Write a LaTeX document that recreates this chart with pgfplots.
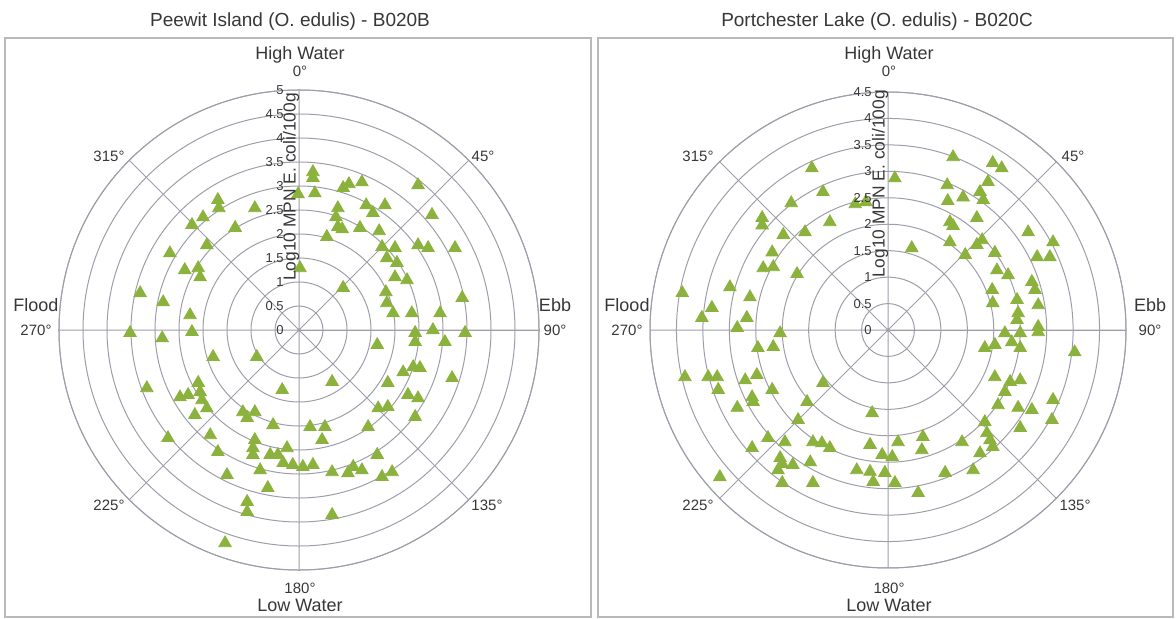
\documentclass[border=0pt]{standalone}
\usepackage{pgfplots}
\pgfplotsset{compat=1.18}
\usepgfplotslibrary{polar}
\usepackage{pgfplotstable}
\usepackage{fontspec}
\setmainfont{Liberation Sans}
\definecolor{gridc}{RGB}{158,158,170}
\definecolor{mk}{RGB}{140,178,62}
\definecolor{framec}{RGB}{185,185,185}
\definecolor{txt}{RGB}{55,55,55}
\newcommand\fs[1]{\fontsize{#1}{#1}\selectfont}

% Peewit Island: Cartesian form of (angle, Log10 MPN) -- x = Ebb direction, y = High Water direction
\pgfplotstableread{
x y
0.29 3.29
0.29 3.17
-0.02 2.83
0.33 2.85
0.92 2.96
1.04 3.04
1.31 3.08
2.48 3.02
1.40 2.60
1.79 2.60
1.54 2.44
0.81 2.54
0.77 2.35
0.81 2.15
0.90 2.10
1.27 2.13
1.67 2.06
0.58 1.94
2.77 2.40
1.73 1.73
2.00 1.71
1.83 1.50
2.04 1.40
2.00 1.10
2.25 1.04
2.48 1.77
2.69 1.71
3.25 1.71
0.02 1.29
0.92 0.88
1.81 0.79
1.83 0.56
1.96 0.35
3.40 0.67
1.63 -0.31
2.42 -0.06
2.42 -0.25
2.79 0.00
3.04 -0.25
3.46 -0.06
2.94 0.35
2.35 0.35
2.17 -0.88
2.38 -0.77
2.52 -0.79
3.19 -1.00
0.69 -1.08
1.85 -1.10
2.27 -1.35
2.48 -1.42
1.65 -1.63
1.85 -1.60
2.42 -1.81
1.44 -2.02
0.23 -2.02
0.54 -2.02
0.48 -2.29
1.63 -2.60
0.08 -2.85
0.29 -2.81
0.69 -2.96
1.02 -2.98
1.13 -2.85
1.31 -2.92
1.73 -3.06
1.94 -2.96
0.69 -3.85
-1.79 -0.56
-0.88 -0.56
-3.17 -1.21
-2.48 -1.40
-2.31 -1.35
-2.10 -1.10
-2.06 -1.29
-2.02 -1.46
-1.92 -1.63
-2.17 -1.77
-0.35 -1.25
-1.17 -1.71
-0.92 -1.71
-1.08 -1.83
-0.54 -1.98
-2.73 -2.25
-1.85 -2.19
-1.69 -2.54
-0.92 -2.29
-0.96 -2.46
-0.96 -2.60
-0.60 -2.60
-0.44 -2.60
-0.25 -2.46
-0.33 -2.77
-0.13 -2.81
-0.81 -2.92
-1.50 -3.02
-0.65 -3.29
-1.08 -3.58
-1.08 -3.79
-1.54 -4.44
-3.52 -0.06
-2.85 -0.17
-2.23 -0.04
-2.27 0.31
-3.31 0.77
-2.83 0.58
-2.38 1.25
-2.10 1.29
-2.06 1.10
-2.69 1.60
-1.92 1.77
-2.23 2.19
-2.00 2.35
-1.69 2.71
-1.67 2.54
-0.92 2.54
-1.33 2.13
}\leftdata

% Portchester Lake
\pgfplotstableread{
x y
-1.44 3.06
-1.23 2.61
-1.83 2.40
-0.62 2.38
-0.42 2.42
-2.38 2.12
-2.38 1.98
-1.10 2.04
-1.98 1.80
-1.57 1.85
-2.19 1.47
-2.36 1.17
-2.17 1.19
-1.72 1.06
-2.99 0.81
-2.61 0.62
-3.89 0.70
-3.33 0.42
-2.67 0.23
-3.52 0.23
-2.85 0.04
0.13 2.87
0.45 1.55
1.23 3.27
1.98 3.16
2.15 3.06
1.12 2.74
1.89 2.80
1.74 2.61
1.80 2.46
1.42 2.51
1.13 2.44
1.17 2.04
1.23 1.97
1.68 2.12
2.65 1.85
3.12 1.66
1.78 1.70
1.68 1.61
1.17 1.66
1.46 1.42
2.02 1.46
2.82 1.38
3.06 1.38
2.06 1.13
2.27 1.04
2.72 0.91
2.78 0.76
1.97 0.76
2.44 0.57
2.84 0.47
1.98 0.51
2.46 0.32
2.44 0.19
2.84 0.06
2.21 -0.06
2.50 -0.06
2.84 -0.04
1.83 -0.34
2.02 -0.28
2.34 -0.23
2.50 -0.34
3.53 -0.42
2.02 -0.89
2.31 -0.98
2.50 -0.95
2.21 -1.17
2.08 -1.42
2.46 -1.47
2.72 -1.51
3.12 -1.32
3.10 -1.70
2.50 -1.85
1.83 -1.74
1.87 -1.95
1.93 -2.08
1.98 -2.21
1.40 -2.12
1.74 -2.33
0.19 -2.12
0.66 -2.02
0.64 -2.27
0.08 -2.40
1.61 -2.65
1.08 -2.70
0.13 -2.89
0.57 -3.08
-2.04 -0.06
-2.46 -0.34
-2.17 -0.32
-3.84 -0.89
-3.40 -0.89
-3.23 -0.89
-3.21 -1.13
-2.70 -0.95
-2.48 -0.85
-2.19 -1.13
-2.57 -1.27
-2.55 -1.36
-2.85 -1.47
-1.53 -1.36
-1.23 -1.00
-1.70 -1.70
-2.27 -2.04
-1.95 -2.12
-2.57 -2.23
-1.42 -2.12
-1.25 -2.14
-1.10 -2.23
-2.04 -2.42
-2.00 -2.53
-2.08 -2.65
-1.80 -2.55
-1.47 -2.50
-2.00 -2.89
-1.42 -2.89
-3.18 -2.78
-0.30 -1.57
-0.34 -2.17
-0.11 -2.36
-0.59 -2.65
-0.34 -2.68
-0.06 -2.70
-0.28 -2.87
}\rightdata

\pgfplotsset{rosestyle/.style={
  anchor=center, scale only axis,
  xtick={0,45,...,315}, xticklabels={}, yticklabels={},
  grid=major, major grid style={gridc, line width=0.5pt},
  axis line style={gridc, line width=0.5pt},
  major tick length=0pt,
}}

\begin{document}
\begin{tikzpicture}
\useasboundingbox (0pt,0pt) rectangle (588pt,-309.5pt);

% ---------- left panel ----------
\begin{polaraxis}[rosestyle, at={(149.5pt,-165pt)}, width=240pt, height=240pt,
  ymin=0, ymax=5, ytick={0,0.5,...,5}]
\addplot[data cs=cart, only marks, mark=triangle*, mark size=3.6pt, mark options={fill=mk, draw=mk}] table {\leftdata};
\end{polaraxis}

% ---------- right panel ----------
\begin{polaraxis}[rosestyle, at={(444pt,-165pt)}, width=238pt, height=238pt,
  ymin=0, ymax=4.5, ytick={0,0.5,...,4.5}]
\addplot[data cs=cart, only marks, mark=triangle*, mark size=3.6pt, mark options={fill=mk, draw=mk}] table {\rightdata};
\end{polaraxis}

\begin{scope}[x=0.5pt,y=0.5pt]
% frames
\draw[framec, line width=0.75pt] (5,-38) rectangle (591,-617);
\draw[framec, line width=0.75pt] (598,-38) rectangle (1173,-617);

\node[txt, font=\fs{9.5pt}] at (290,-22) {Peewit Island (O. edulis) - B020B};
\foreach \r in {0,0.5,1,1.5,2,2.5,3,3.5,4,4.5,5}
  \node[txt, anchor=east, font=\fs{6.5pt}, inner sep=0pt] at (284,{-330+\r*48}) {\r};
\node[txt, rotate=90, font=\fs{8.7pt}, inner sep=0pt] at (291,-187) {Log10 MPN E. coli/100g};
\node[txt, font=\fs{9pt}] at (300,-55) {High Water};
\node[txt, font=\fs{7.5pt}] at (300,-71) {0°};
\node[txt, font=\fs{7.5pt}] at (300,-588) {180°};
\node[txt, font=\fs{9pt}] at (300,-605) {Low Water};
\node[txt, font=\fs{9pt}] at (36,-305) {Flood};
\node[txt, font=\fs{7.5pt}] at (36,-330) {270°};
\node[txt, font=\fs{9pt}] at (555,-305) {Ebb};
\node[txt, font=\fs{7.5pt}] at (555,-330) {90°};
\node[txt, font=\fs{7.5pt}] at (483,-156) {45°};
\node[txt, font=\fs{7.5pt}] at (487,-505) {135°};
\node[txt, font=\fs{7.5pt}] at (109,-505) {225°};
\node[txt, font=\fs{7.5pt}] at (109,-156) {315°};

\node[txt, font=\fs{9.5pt}] at (877,-22) {Portchester Lake (O. edulis) - B020C};
\foreach \r in {0,0.5,1,1.5,2,2.5,3,3.5,4,4.5}
  \node[txt, anchor=east, font=\fs{6.5pt}, inner sep=0pt] at (872,{-330+\r*52.9}) {\r};
\node[txt, rotate=90, font=\fs{8.7pt}, inner sep=0pt] at (880,-184) {Log10 MPN E. coli/100g};
\node[txt, font=\fs{9pt}] at (889,-55) {High Water};
\node[txt, font=\fs{7.5pt}] at (889,-71) {0°};
\node[txt, font=\fs{7.5pt}] at (889,-588) {180°};
\node[txt, font=\fs{9pt}] at (889,-605) {Low Water};
\node[txt, font=\fs{9pt}] at (627,-305) {Flood};
\node[txt, font=\fs{7.5pt}] at (627,-330) {270°};
\node[txt, font=\fs{9pt}] at (1150,-305) {Ebb};
\node[txt, font=\fs{7.5pt}] at (1150,-330) {90°};
\node[txt, font=\fs{7.5pt}] at (1073,-156) {45°};
\node[txt, font=\fs{7.5pt}] at (1075,-505) {135°};
\node[txt, font=\fs{7.5pt}] at (698,-505) {225°};
\node[txt, font=\fs{7.5pt}] at (698,-156) {315°};
\end{scope}
\end{tikzpicture}
\end{document}
